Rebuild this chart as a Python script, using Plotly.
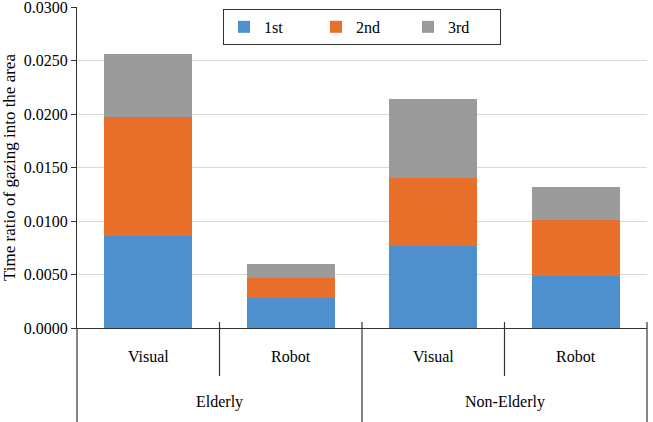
import plotly.graph_objects as go

groups = ["Elderly", "Elderly", "Non-Elderly", "Non-Elderly"]
conditions = ["Visual", "Robot", "Visual", "Robot"]
first = [0.0086, 0.0028, 0.0077, 0.0049]
second = [0.0111, 0.0019, 0.0063, 0.0052]
third = [0.0059, 0.0013, 0.0074, 0.0031]
series_names = ["1st", "2nd", "3rd"]
colors = ["#4e8fce", "#e8702a", "#9b9b9b"]
y_ticks = [0.0, 0.005, 0.010, 0.015, 0.020, 0.025, 0.030]
y_ticklabels = ["0.0000", "0.0050", "0.0100", "0.0150", "0.0200", "0.0250", "0.0300"]

FONT = "Liberation Serif, Times New Roman, serif"

fig = go.Figure()
for name, vals, c in zip(series_names, [first, second, third], colors):
    fig.add_trace(go.Bar(x=[groups, conditions], y=vals, name=name,
                         marker=dict(color=c, line=dict(width=0))))

fig.update_layout(
    barmode="stack", bargap=0.38,
    width=653, height=422,
    margin=dict(l=77, r=6, t=7, b=94),
    paper_bgcolor="white", plot_bgcolor="white",
    font=dict(family=FONT, size=16, color="black"),
    legend=dict(orientation="h", x=0.5, xanchor="center", y=0.994, yanchor="top",
                bordercolor="#333333", borderwidth=1, bgcolor="white",
                traceorder="normal",
                font=dict(size=16), entrywidth=47, entrywidthmode="pixels"),
    showlegend=True,
)
fig.update_yaxes(range=[0, 0.03002], tickmode="array", tickvals=y_ticks, ticktext=y_ticklabels,
                 showgrid=True, gridcolor="#d9d9d9", gridwidth=1,
                 showline=True, linecolor="#333333", linewidth=1,
                 ticks="outside", ticklen=5, tickcolor="#333333",
                 tickfont=dict(size=16), automargin=False, ticklabeloverflow="allow",
                 title=dict(text="Time ratio of gazing into the area", font=dict(size=17), standoff=4),
                 zeroline=False)
fig.update_xaxes(showline=True, linecolor="#333333", linewidth=1,
                 showdividers=False, showticklabels=False, automargin=False)

# category labels (two rows) placed under each category / group
n = len(conditions)
for i, c in enumerate(conditions):
    fig.add_annotation(text=c, xref="paper", yref="paper", x=(i + 0.5) / n, y=-28 / 321,
                       xanchor="center", yanchor="middle", showarrow=False, font=dict(size=16))
uniq = []
for g in groups:
    if g not in uniq:
        uniq.append(g)
for g in uniq:
    idx = [i for i, gg in enumerate(groups) if gg == g]
    xc = (idx[0] + idx[-1] + 1) / 2 / n
    fig.add_annotation(text=g, xref="paper", yref="paper", x=xc, y=-74 / 321,
                       xanchor="center", yanchor="middle", showarrow=False, font=dict(size=16))

# divider lines of the category axis
ymin = -94 / 321
ytop = 6 / 321
for xp in [0, 0.5, 1]:
    fig.add_shape(type="line", xref="paper", yref="paper", x0=xp, x1=xp, y0=ytop if xp > 0 else 0,
                  y1=ymin, line=dict(color="#333333", width=1.2))
for xp in [0.25, 0.75]:
    fig.add_shape(type="line", xref="paper", yref="paper", x0=xp, x1=xp, y0=ytop,
                  y1=-48 / 321, line=dict(color="#333333", width=1.2))

fig.write_html("out.html")
